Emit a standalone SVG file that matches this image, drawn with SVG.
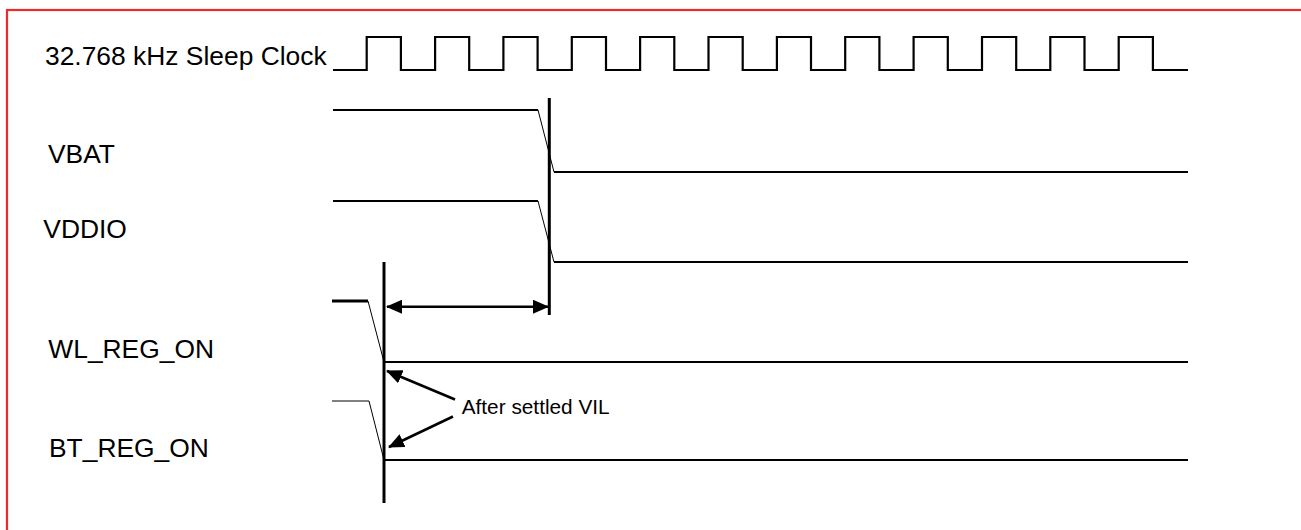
<svg xmlns="http://www.w3.org/2000/svg" width="1301" height="530" viewBox="0 0 1301 530">
<style>
.lbl{font-family:"Liberation Sans",Arial,sans-serif;font-size:26.4px;fill:#000}
.note{font-family:"Liberation Sans",Arial,sans-serif;font-size:20.8px;fill:#000}
.w{fill:none;stroke:#000;stroke-width:2.2}
.t{fill:none;stroke:#000;stroke-width:1}
.v{fill:none;stroke:#000;stroke-width:3}
.arr{fill:none;stroke:#000;stroke-width:2.5}
</style>
<defs>
<marker id="ah" viewBox="0 0 16 14" refX="15" refY="7" markerWidth="16" markerHeight="14" markerUnits="userSpaceOnUse" orient="auto-start-reverse">
<path d="M0,0 L16,7 L0,14 Z" fill="#000"/>
</marker>
</defs>
<rect x="0" y="0" width="1301" height="530" fill="#fff"/>
<rect id="frame" x="7" y="10" width="1320" height="540" fill="none" stroke="#ee2a2a" stroke-width="2.2"/>
<g id="clock">
<text class="lbl" x="45" y="65">32.768 kHz Sleep Clock</text>
<path class="w" d="M333,70 H366.7 V37 H400.9 V70 H435.1 V37 H469.2 V70 H503.4 V37 H537.6 V70 H571.8 V37 H606 V70 H640.1 V37 H674.3 V70 H708.5 V37 H742.7 V70 H776.9 V37 H811 V70 H845.2 V37 H879.4 V70 H913.6 V37 H947.8 V70 H982 V37 H1016.2 V70 H1050.3 V37 H1084.5 V70 H1118.7 V37 H1152.9 V70 H1188"/>
</g>
<g id="vbat">
<text class="lbl" x="48" y="162.7">VBAT</text>
<path class="w" d="M333,110 H538"/>
<path class="t" d="M538,110 L554,172"/>
<path class="w" d="M554,172 H1188"/>
</g>
<g id="vddio">
<text class="lbl" x="43.3" y="238.3">VDDIO</text>
<path class="w" d="M333,201 H538"/>
<path class="t" d="M538,201 L554,262"/>
<path class="w" d="M554,262 H1188"/>
</g>
<g id="wl_reg_on">
<text class="lbl" x="48.3" y="358.3">WL_REG_ON</text>
<path class="v" d="M332,301 H368"/>
<path class="t" d="M368,301 L384,362"/>
<path class="w" d="M384,362 H1188"/>
</g>
<g id="bt_reg_on">
<text class="lbl" x="49" y="456.7">BT_REG_ON</text>
<path class="t" d="M332,401 H369 L384,460"/>
<path class="w" d="M384,460 H1188"/>
</g>
<g id="markers">
<path class="v" d="M549.3,98 V315"/>
<path class="v" d="M384,262 V503"/>
</g>
<g id="connectors">
<path class="arr" d="M387,306.7 H548" marker-start="url(#ah)" marker-end="url(#ah)"/>
<path class="arr" d="M455,399.5 L387,371" marker-end="url(#ah)"/>
<path class="arr" d="M453,416.5 L389,447" marker-end="url(#ah)"/>
<text class="note" x="461.7" y="414">After settled VIL</text>
</g>
</svg>
